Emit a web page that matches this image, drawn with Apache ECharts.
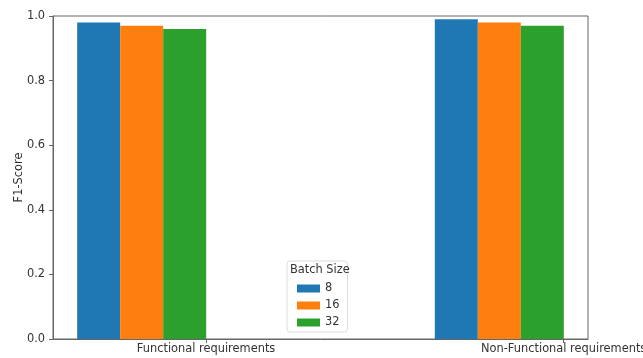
<!DOCTYPE html>
<html>
<head>
<meta charset="utf-8">
<script src="https://cdn.jsdelivr.net/npm/echarts@6/dist/echarts.min.js"></script>
<style>
  html, body { margin: 0; padding: 0; background: #fff; }
  #chart { width: 643px; height: 358px; }
</style>
</head>
<body>
<div id="chart"></div>
<script>
  // data
  var categories = ['Functional requirements', 'Non-Functional requirements'];
  var batchSizes = ['8', '16', '32'];
  var f1Batch8 = [0.98, 0.99];
  var f1Batch16 = [0.97, 0.98];
  var f1Batch32 = [0.96, 0.97];

  var seriesValues = [f1Batch8, f1Batch16, f1Batch32];
  var colors = ['#1f77b4', '#ff7f0e', '#2ca02c'];
  var groupShift = -0.18; // bars sit left of the category tick
  var font = 'DejaVu Sans';

  var myChart = echarts.init(document.getElementById('chart'));
  var option = {
    animation: false,
    textStyle: { fontFamily: font },
    color: colors,
    grid: {
      left: 53, top: 16, right: 55, bottom: 19,
      outerBoundsMode: 'none',
      containLabel: false,
      show: true, borderColor: '#666', borderWidth: 1, backgroundColor: '#fff'
    },
    xAxis: {
      type: 'value',
      min: -0.428,
      max: 1.068,
      splitLine: { show: false },
      axisLine: { show: true, onZero: false, lineStyle: { color: '#666' } },
      axisTick: { show: true, length: 4, customValues: [0, 1], lineStyle: { color: '#666' } },
      axisLabel: {
        customValues: [0, 1],
        color: '#333', fontSize: 11.4, margin: 5,
        formatter: function (v) { return categories[Math.round(v)]; }
      }
    },
    yAxis: {
      type: 'value',
      min: 0,
      max: 1,
      interval: 0.2,
      name: 'F1-Score',
      nameLocation: 'middle',
      nameGap: 28,
      nameMoveOverlap: false,
      nameTextStyle: { color: '#333', fontSize: 11.4 },
      splitLine: { show: false },
      axisLine: { show: true, onZero: false, lineStyle: { color: '#666' } },
      axisTick: { show: true, length: 4, lineStyle: { color: '#666' } },
      axisLabel: {
        color: '#333', fontSize: 11.4, margin: 8,
        formatter: function (v) { return v.toFixed(1); }
      }
    },
    legend: {
      orient: 'vertical',
      left: 287,
      top: 261,
      padding: [22, 8, 4, 10],
      itemWidth: 23,
      itemHeight: 8,
      itemGap: 6,
      itemTextGap: 10,
      icon: 'rect',
      backgroundColor: '#fff',
      borderColor: '#ddd',
      borderWidth: 1,
      borderRadius: 3,
      textStyle: { color: '#333', fontSize: 11.4, fontFamily: font },
      data: batchSizes
    },
    graphic: [{
      type: 'text',
      left: 290,
      top: 265,
      z: 100,
      style: { text: 'Batch Size', fill: '#333', font: '11.4px "DejaVu Sans"' }
    }],
    series: batchSizes.map(function (name, i) {
      return {
        name: name,
        type: 'bar',
        barWidth: 43,
        barGap: '0%',
        data: seriesValues[i].map(function (v, c) { return [c + groupShift, v]; })
      };
    })
  };
  myChart.setOption(option);
</script>
</body>
</html>
